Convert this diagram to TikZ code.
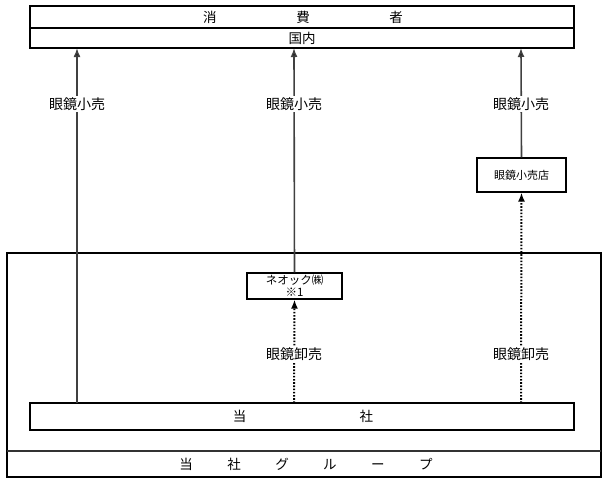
\documentclass[tikz,border=0pt]{standalone}
\usepackage{fontspec}
\setmainfont{Noto Sans CJK JP}
\usetikzlibrary{arrows.meta}
\begin{document}
\begin{tikzpicture}[x=1pt,y=-1pt,
  frame/.style={draw=black,line width=1.8pt},
  big/.style={font=\fontsize{13.5}{15}\selectfont},
  lbl/.style={fill=white,inner sep=2pt,font=\fontsize{14}{16}\selectfont},
  solidarr/.style={draw=black!75,line width=1.6pt,-{Latex[length=9pt,width=7pt,fill=black]}},
  dotarr/.style={draw=black,line width=2pt,dash pattern=on 1.6pt off 1.6pt,-{Latex[length=9pt,width=7pt,fill=black]}}]
\useasboundingbox (0,0) rectangle (606,483);
% group frame
\draw[line width=1.5pt] (7,253) rectangle (601,477);
\draw[line width=1.5pt,draw=black!80] (7,451) -- (601,451);
\node[big] (grp) at (306,464) {当\hspace{2.55em}社\hspace{2.55em}グ\hspace{2.55em}ル\hspace{2.55em}ー\hspace{2.55em}プ};
% consumer box
\draw[frame] (30,6) rectangle (574,48);
\draw[line width=1.4pt] (30,28) -- (574,28);
\node[big] (cons) at (303,17) {消\hspace{5.9em}費\hspace{5.9em}者};
\node[big] (dom) at (302,38) {国内};
\coordinate (t1) at (77,48);
\coordinate (t2) at (294,48);
\coordinate (t3) at (521,48);
% company box
\draw[frame] (30,403) rectangle (574,430);
\node[big] (co) at (303,416.5) {当\hspace{8.4em}社};
\coordinate (b1) at (77,403);
\coordinate (b2) at (294,403);
\coordinate (b3) at (521,403);
% neoc box
\node[draw,line width=1.2pt,minimum width=95pt,minimum height=26pt,inner sep=0.5pt,align=center,font=\fontsize{11.5}{12}\selectfont] (neo) at (294.5,286) {ネオック㈱\\※1};
% retail shop box
\node[draw,line width=1.2pt,minimum width=89pt,minimum height=34pt,font=\fontsize{11}{12}\selectfont] (shop) at (521.5,175) {眼鏡小売店};
% arrows
\draw[solidarr] (b1) -- (t1);
\draw[solidarr] (neo.north) -- (t2);
\draw[solidarr] (shop.north) -- (t3);
\draw[dotarr] (b2) -- (neo.south);
\draw[dotarr] (b3) -- (shop.south);
% labels
\node[lbl] (l1) at (77,104) {眼鏡小売};
\node[lbl] (l2) at (294,104) {眼鏡小売};
\node[lbl] (l3) at (521,104) {眼鏡小売};
\node[lbl] (w2) at (294,354) {眼鏡卸売};
\node[lbl] (w3) at (521,354) {眼鏡卸売};
\end{tikzpicture}
\end{document}
